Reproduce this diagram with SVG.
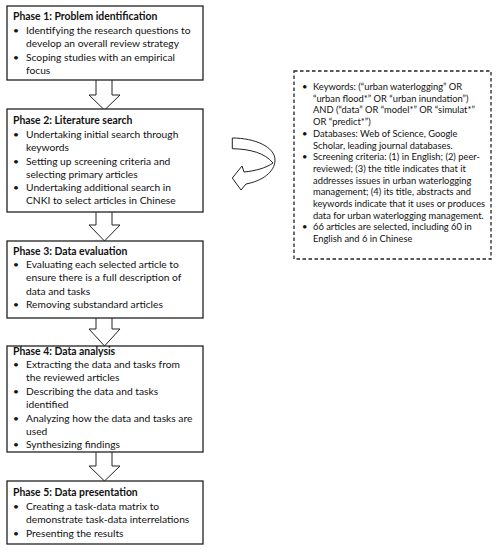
<svg xmlns="http://www.w3.org/2000/svg" width="501" height="550" viewBox="0 0 501 550">
<style>
.box{fill:#fff;stroke:#222;stroke-width:1.3}
.dbox{fill:#fff;stroke:#222;stroke-width:1.3;stroke-dasharray:3.5 2.5}
.arr{fill:#fff;stroke:#222;stroke-width:1}
text{font-family:Lato,"Liberation Sans",sans-serif;fill:#111}
.t{font-size:10.4px;font-weight:bold}
.b{font-size:10.25px}
.s{font-size:9.35px}
</style>
<rect width="501" height="550" fill="#fff"/>
<g id="connectors">
<path class="arr" d="M96,80 V95 H89 L104.5,110 L120,95 H112 V80"/>
<path class="arr" d="M96,212 V225 H89 L104.5,241 L120,225 H112 V212"/>
<path class="arr" d="M96,318 V329 H89 L104.5,346 L120,329 H112 V318"/>
<path class="arr" d="M96,452 V466 H89 L104.5,481 L120,466 H112 V452"/>
<path class="arr" d="M232.3,138 L232.3,148.7 C250,149 265,153 273,163 C266,168 255,171 244,172 L242,166 L232.3,178 L241,190 L246,184 C262,181 275,172 275,160 C275,147 255,138 232.3,138 Z"/>
</g>
<g id="phase1">
<rect class="box" x="7" y="6" width="196" height="74"/>
<text class="t" x="13" y="20">Phase 1: Problem identification</text>
<text class="b" x="13" y="34">•</text><text class="b" x="26" y="34">Identifying the research questions to</text>
<text class="b" x="26" y="47.3">develop an overall review strategy</text>
<text class="b" x="13" y="60.6">•</text><text class="b" x="26" y="60.6">Scoping studies with an empirical</text>
<text class="b" x="26" y="74">focus</text>
</g>
<g id="phase2">
<rect class="box" x="7" y="109" width="196" height="103"/>
<text class="t" x="13" y="124">Phase 2: Literature search</text>
<text class="b" x="13" y="138">•</text><text class="b" x="26" y="138">Undertaking initial search through</text>
<text class="b" x="26" y="151">keywords</text>
<text class="b" x="13" y="164.5">•</text><text class="b" x="26" y="164.5">Setting up screening criteria and</text>
<text class="b" x="26" y="177.5">selecting primary articles</text>
<text class="b" x="13" y="191">•</text><text class="b" x="26" y="191">Undertaking additional search in</text>
<text class="b" x="26" y="204">CNKI to select articles in Chinese</text>
</g>
<g id="phase3">
<rect class="box" x="7" y="241" width="196" height="77"/>
<text class="t" x="13" y="254.5">Phase 3: Data evaluation</text>
<text class="b" x="13" y="268">•</text><text class="b" x="26" y="268">Evaluating each selected article to</text>
<text class="b" x="26" y="281">ensure there is a full description of</text>
<text class="b" x="26" y="294.5">data and tasks</text>
<text class="b" x="13" y="308">•</text><text class="b" x="26" y="308">Removing substandard articles</text>
</g>
<g id="phase4">
<rect class="box" x="7" y="346" width="196" height="106"/>
<text class="t" x="13" y="355">Phase 4: Data analysis</text>
<text class="b" x="13" y="368">•</text><text class="b" x="26" y="368">Extracting the data and tasks from</text>
<text class="b" x="26" y="381">the reviewed articles</text>
<text class="b" x="13" y="394.5">•</text><text class="b" x="26" y="394.5">Describing the data and tasks</text>
<text class="b" x="26" y="408">identified</text>
<text class="b" x="13" y="421.5">•</text><text class="b" x="26" y="421.5">Analyzing how the data and tasks are</text>
<text class="b" x="26" y="435">used</text>
<text class="b" x="13" y="448">•</text><text class="b" x="26" y="448">Synthesizing findings</text>
</g>
<g id="phase5">
<rect class="box" x="7" y="481" width="196" height="63"/>
<text class="t" x="13" y="496">Phase 5: Data presentation</text>
<text class="b" x="13" y="509.5">•</text><text class="b" x="26" y="509.5">Creating a task-data matrix to</text>
<text class="b" x="26" y="523">demonstrate task-data interrelations</text>
<text class="b" x="13" y="536.5">•</text><text class="b" x="26" y="536.5">Presenting the results</text>
</g>
<g id="details">
<rect class="dbox" x="294" y="71" width="197" height="188"/>
<text class="s" x="302" y="90">•</text><text class="s" x="313" y="90">Keywords: (“urban waterlogging” OR</text>
<text class="s" x="313" y="101.7">“urban flood*” OR “urban inundation”)</text>
<text class="s" x="313" y="113.4">AND (“data” OR “model*” OR “simulat*”</text>
<text class="s" x="313" y="125.1">OR “predict*”)</text>
<text class="s" x="302" y="136.8">•</text><text class="s" x="313" y="136.8">Databases: Web of Science, Google</text>
<text class="s" x="313" y="148.5">Scholar, leading journal databases.</text>
<text class="s" x="302" y="160.2">•</text><text class="s" x="313" y="160.2">Screening criteria: (1) in English; (2) peer-</text>
<text class="s" x="313" y="171.9">reviewed; (3) the title indicates that it</text>
<text class="s" x="313" y="183.6">addresses issues in urban waterlogging</text>
<text class="s" x="313" y="195.3">management; (4) its title, abstracts and</text>
<text class="s" x="313" y="207">keywords indicate that it uses or produces</text>
<text class="s" x="313" y="218.7">data for urban waterlogging management.</text>
<text class="s" x="302" y="230.4">•</text><text class="s" x="313" y="230.4">66 articles are selected, including 60 in</text>
<text class="s" x="313" y="242.1">English and 6 in Chinese</text>
</g>
</svg>
